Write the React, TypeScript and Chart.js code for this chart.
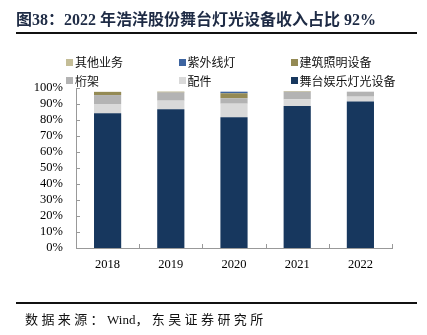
import React, { useEffect, useRef } from "react";
import { Chart, registerables } from "chart.js";

Chart.register(...registerables);

const categories = ["2018", "2019", "2020", "2021", "2022"];
const seriesNames = ["舞台娱乐灯光设备", "配件", "桁架", "建筑照明设备", "紫外线灯", "其他业务"];
const stageLighting = [84.2, 86.7, 81.7, 88.7, 91.5];
const accessories = [5.8, 5.4, 8.5, 4.2, 3.1];
const truss = [5.6, 5.1, 3.4, 4.7, 3.1];
const archLighting = [2.0, 0.5, 3.1, 0.3, 0];
const uvLamps = [0, 0, 1.0, 0, 0];
const otherBusiness = [0, 0, 0, 0, 0];
const seriesColors = ["#17375E", "#D9D9D9", "#B3B3B3", "#948A54", "#3D64A0", "#C4BD97"];
const yTicks = [0, 10, 20, 30, 40, 50, 60, 70, 80, 90, 100];

const titleText = ["图38：", "2022 ", "年浩洋股份舞台灯光设备收入占比", " 92%"];
const sourceText = ["数据来源：", "Wind", "，东吴证券研究所"];

const SERIF = '"Liberation Serif", "Times New Roman", "Noto Sans CJK SC", serif';
const CJK = '"Noto Sans CJK SC", "Liberation Serif", serif';

const innerTicks = {
  id: "innerTicks",
  afterDraw(chart: any) {
    const ctx = chart.ctx;
    const y = chart.scales.y;
    const area = chart.chartArea;
    ctx.save();
    ctx.strokeStyle = "#999999";
    ctx.lineWidth = 1;
    ctx.beginPath();
    const n = categories.length;
    for (let i = 0; i <= n; i++) {
      const px = Math.round(area.left + (i * (area.right - area.left)) / n) + 0.5;
      ctx.moveTo(px, area.bottom);
      ctx.lineTo(px, area.bottom - 4);
    }
    for (const v of yTicks) {
      const py = Math.round(y.getPixelForValue(v)) + 0.5;
      ctx.moveTo(area.left, py);
      ctx.lineTo(area.left + 4, py);
    }
    ctx.stroke();
    ctx.restore();
  },
};

export default function App() {
  const ref = useRef<HTMLCanvasElement | null>(null);

  useEffect(() => {
    if (!ref.current) return;
    const values = [stageLighting, accessories, truss, archLighting, uvLamps, otherBusiness];
    const chart = new Chart(ref.current, {
      type: "bar",
      data: {
        labels: categories,
        datasets: values.map((d, i) => ({
          label: seriesNames[i],
          data: d,
          backgroundColor: seriesColors[i],
          borderWidth: 0,
          barPercentage: 0.43,
          categoryPercentage: 1,
        })),
      },
      options: {
        responsive: false,
        animation: false,
        layout: { padding: { left: 0, right: 35, top: 88, bottom: 0 } },
        plugins: { legend: { display: false }, title: { display: false }, tooltip: { enabled: false } },
        scales: {
          x: {
            stacked: true,
            grid: { display: false, drawTicks: false },
            border: { display: true, color: "#999999", width: 1 },
            ticks: { color: "#000000", font: { family: SERIF, size: 12.5 }, padding: 9 },
            afterFit: (s: any) => {
              s.height = 87;
            },
          },
          y: {
            stacked: true,
            min: 0,
            max: 100,
            grid: { display: false, drawTicks: false },
            border: { display: true, color: "#999999", width: 1 },
            ticks: {
              stepSize: 10,
              autoSkip: false,
              color: "#000000",
              font: { family: SERIF, size: 12.5 },
              padding: 13,
              callback: (v: any) => v + "%",
            },
            afterBuildTicks: (s: any) => {
              s.ticks = yTicks.map((v) => ({ value: v }));
            },
            afterFit: (s: any) => {
              s.width = 76;
            },
          },
        },
      },
      plugins: [innerTicks],
    });
    return () => chart.destroy();
  }, []);

  const legendOrder = [5, 4, 3, 2, 1, 0];

  return (
    <div style={{ position: "absolute", left: 0, top: 0, width: 427, height: 335, background: "#fff", overflow: "hidden" }}>
      <canvas ref={ref} width={427} height={335} style={{ position: "absolute", left: 0, top: 0 }} />
      <div
        style={{
          position: "absolute",
          left: 16,
          top: 9,
          whiteSpace: "nowrap",
          fontWeight: "bold",
          fontSize: 16,
          lineHeight: "18px",
          color: "#1E2B45",
          fontFamily: SERIF,
        }}
      >
        <span style={{ fontFamily: CJK }}>{titleText[0].slice(0, 1)}</span>
        <span>{titleText[0].slice(1, 3)}</span>
        <span style={{ fontFamily: CJK }}>{titleText[0].slice(3)}</span>
        <span>{titleText[1]}</span>
        <span style={{ fontFamily: CJK }}>{titleText[2]}</span>
        <span>{titleText[3]}</span>
      </div>
      <div style={{ position: "absolute", left: 16, top: 32, width: 401, height: 2, background: "#111" }} />
      <div
        style={{
          position: "absolute",
          left: 66,
          top: 53,
          display: "grid",
          gridTemplateColumns: "112.5px 112px 120px",
          gridAutoRows: "18.5px",
          fontFamily: CJK,
          fontSize: 12,
          color: "#111",
        }}
      >
        {legendOrder.map((i) => (
          <div key={i} style={{ display: "flex", alignItems: "center", whiteSpace: "nowrap" }}>
            <span style={{ display: "inline-block", width: 7, height: 7, background: seriesColors[i], marginRight: 2 }} />
            <span style={{ lineHeight: "18px" }}>{seriesNames[i]}</span>
          </div>
        ))}
      </div>
      <div style={{ position: "absolute", left: 16, top: 302, width: 401, height: 2, background: "#111" }} />
      <div
        style={{
          position: "absolute",
          left: 25,
          top: 310,
          whiteSpace: "nowrap",
          fontSize: 13,
          lineHeight: "18px",
          color: "#111",
          fontFamily: SERIF,
        }}
      >
        <span style={{ fontFamily: CJK, letterSpacing: 3.4 }}>{sourceText[0]}</span>
        <span>{sourceText[1]}</span>
        <span style={{ fontFamily: CJK, letterSpacing: 3.4 }}>{sourceText[2]}</span>
      </div>
    </div>
  );
}
